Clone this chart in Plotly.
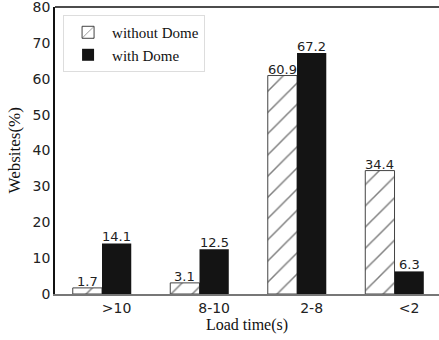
import plotly.graph_objects as go

categories = [">10", "8-10", "2-8", "<2"]
without_dome = [1.7, 3.1, 60.9, 34.4]
with_dome = [14.1, 12.5, 67.2, 6.3]
y_ticks = [0, 10, 20, 30, 40, 50, 60, 70, 80]

W = 0.3
idx = list(range(len(categories)))
x_without = [i - W / 2 for i in idx]
x_with = [i + W / 2 for i in idx]

fig = go.Figure()
fig.add_trace(go.Bar(
    x=x_without, y=without_dome, width=W, name="without Dome",
    marker=dict(color="white", line=dict(color="#444444", width=1),
                pattern=dict(shape="/", fgcolor="#000000", bgcolor="white", size=15, solidity=0.1)),
))
fig.add_trace(go.Bar(
    x=x_with, y=with_dome, width=W, name="with Dome",
    marker=dict(color="#141414", line=dict(color="#141414", width=0)),
))

annotations = []
for xs, vals in ((x_without, without_dome), (x_with, with_dome)):
    for xv, v in zip(xs, vals):
        annotations.append(dict(x=xv, y=v, xref="x", yref="y", text=f"{v:.1f}", showarrow=False,
                                xanchor="center", yanchor="bottom", yshift=-3,
                                font=dict(family="DejaVu Sans", size=13, color="#222222")))
annotations.append(dict(x=(14 - 55) / 384, y=0.5, xref="paper", yref="paper", text="Websites(%)",
                        textangle=-90, showarrow=False, xanchor="center", yanchor="middle",
                        font=dict(family="Liberation Serif", size=17, color="#111111")))

fig.update_layout(
    width=439, height=340,
    margin=dict(l=55, r=0, t=7, b=46, autoexpand=False),
    paper_bgcolor="white", plot_bgcolor="white",
    barmode="overlay", showlegend=True,
    legend=dict(x=0.021, y=0.972, xanchor="left", yanchor="top",
                bordercolor="#dddddd", borderwidth=1, bgcolor="white",
                font=dict(family="Liberation Serif", size=15, color="#111111"),
                itemwidth=38, tracegroupgap=0),
    xaxis=dict(range=[-0.482, 3.456], tickvals=x_with, ticktext=categories,
               showgrid=False, zeroline=False, showline=True, linecolor="#777777", linewidth=1.5,
               ticks="", automargin=False, ticklabeloverflow="allow",
               tickfont=dict(family="DejaVu Sans", size=14, color="#222222"),
               title=dict(text="Load time(s)", font=dict(family="Liberation Serif", size=16, color="#111111"), standoff=3)),
    yaxis=dict(range=[0, 80], tickvals=y_ticks, showgrid=False, zeroline=False,
               showline=True, linecolor="#111111", linewidth=1.5, ticks="", automargin=False,
               ticklabeloverflow="allow",
               tickfont=dict(family="DejaVu Sans", size=14, color="#222222")),
    annotations=annotations,
    shapes=[dict(type="line", xref="paper", yref="paper", x0=0, x1=1, y0=1, y1=1,
                 line=dict(color="#111111", width=1.5))],
)

fig.write_html("out.html", config={"displayModeBar": False},
               post_script="document.body.style.margin='0';")
